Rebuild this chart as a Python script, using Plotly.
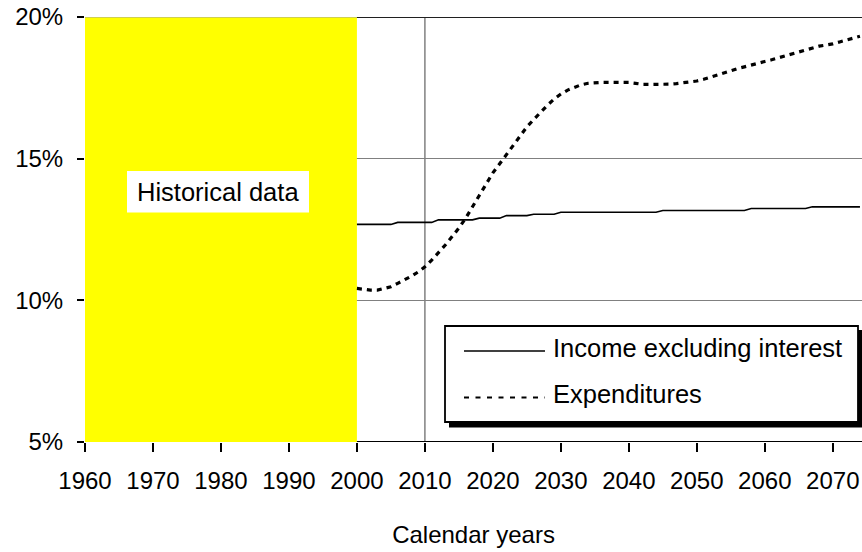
import plotly.graph_objects as go

# ---------------- data ----------------
years = list(range(2000, 2075))

income = [12.68, 12.68, 12.68, 12.68, 12.68, 12.68,
          12.75, 12.75, 12.75, 12.75, 12.75, 12.75,
          12.84, 12.84, 12.84, 12.84, 12.84, 12.84,
          12.90, 12.90, 12.90, 12.90,
          12.99, 12.99, 12.99, 12.99,
          13.04, 13.04, 13.04, 13.04,
          13.11, 13.11, 13.11, 13.11, 13.11, 13.11, 13.11, 13.11, 13.11, 13.11,
          13.11, 13.11, 13.11, 13.11, 13.11,
          13.17, 13.17, 13.17, 13.17, 13.17, 13.17, 13.17, 13.17, 13.17, 13.17,
          13.17, 13.17, 13.17,
          13.24, 13.24, 13.24, 13.24, 13.24, 13.24, 13.24, 13.24, 13.24,
          13.30, 13.30, 13.30, 13.30, 13.30, 13.30, 13.30, 13.30]

expenditures = [10.42, 10.39, 10.36, 10.36, 10.42, 10.48, 10.60, 10.72, 10.85, 11.00,
                11.18, 11.42, 11.68, 11.95, 12.25, 12.55, 12.90, 13.28, 13.70, 14.10,
                14.50, 14.82, 15.15, 15.48, 15.80, 16.12, 16.38, 16.65, 16.88, 17.10,
                17.28, 17.42, 17.53, 17.61, 17.66, 17.68, 17.69, 17.69, 17.69, 17.69,
                17.69, 17.66, 17.62, 17.62, 17.62, 17.62, 17.63, 17.65, 17.68, 17.71,
                17.74, 17.80, 17.88, 17.96, 18.05, 18.12, 18.18, 18.24, 18.31, 18.37,
                18.43, 18.49, 18.56, 18.63, 18.70, 18.77, 18.85, 18.92, 18.97, 19.01,
                19.05, 19.12, 19.19, 19.26, 19.32]

x_tick_vals = [1960, 1970, 1980, 1990, 2000, 2010, 2020, 2030, 2040, 2050, 2060, 2070]
y_tick_vals = [5, 10, 15, 20]
y_tick_text = ["5%", "10%", "15%", "20%"]

series_names = ["Income excluding interest", "Expenditures"]
historical_label = "Historical data"
x_title = "Calendar years"

historical_start, historical_end = 1960, 2000
projection_marker = 2010
x_min, x_max = 1960, 2074.3
y_min, y_max = 5, 20

FONT = "Liberation Sans, Arial, sans-serif"

# ---------------- figure ----------------
fig = go.Figure()
fig.add_trace(go.Scatter(x=years, y=income, mode="lines", name=series_names[0],
                         line=dict(color="black", width=1.6), showlegend=False))
fig.add_trace(go.Scatter(x=years, y=expenditures, mode="lines", name=series_names[1],
                         line=dict(color="black", width=3.2, dash="5px,5px"), showlegend=False))

L, R, T, B = 85, 0, 17, 110
W, H = 862, 552
pw, ph = W - L - R, H - T - B


def px_x(p):
    return (p - L) / pw


def px_y(p):
    return (H - B - p) / ph


shapes = [
    dict(type="rect", xref="x", yref="y", x0=historical_start, x1=historical_end,
         y0=y_min, y1=y_max, fillcolor="#FFFF00", line=dict(width=0), layer="between"),
    dict(type="line", xref="x", yref="y", x0=historical_start, x1=historical_end,
         y0=y_max, y1=y_max, line=dict(color="#A0A0A0", width=1), layer="above"),
    dict(type="line", xref="x", yref="y", x0=projection_marker, x1=projection_marker,
         y0=y_min, y1=y_max, line=dict(color="#808080", width=1.5), layer="between"),
    dict(type="line", xref="x", yref="y", x0=historical_end, x1=x_max,
         y0=y_max, y1=y_max, line=dict(color="#202020", width=2), layer="above"),
    dict(type="line", xref="x", yref="y", x0=historical_end, x1=x_max,
         y0=y_min, y1=y_min, line=dict(color="black", width=2), layer="above"),
    dict(type="rect", xref="paper", yref="paper", x0=px_x(127), x1=px_x(309),
         y0=px_y(212.5), y1=px_y(171), fillcolor="white", line=dict(width=0), layer="above"),
    dict(type="rect", xref="paper", yref="paper", x0=px_x(449), x1=px_x(862),
         y0=px_y(427.5), y1=px_y(330), fillcolor="black", line=dict(width=0), layer="above"),
    dict(type="rect", xref="paper", yref="paper", x0=px_x(445), x1=px_x(858),
         y0=px_y(422), y1=px_y(326), fillcolor="white",
         line=dict(color="black", width=1.8), layer="above"),
    dict(type="line", xref="paper", yref="paper", x0=px_x(464), x1=px_x(545),
         y0=px_y(351), y1=px_y(351), line=dict(color="black", width=1.6), layer="above"),
    dict(type="line", xref="paper", yref="paper", x0=px_x(464), x1=px_x(545),
         y0=px_y(397.5), y1=px_y(397.5), line=dict(color="black", width=2, dash="5px,6.5px"),
         layer="above"),
]

annotations = [
    dict(xref="paper", yref="paper", x=px_x(218), y=px_y(192), text=historical_label,
         showarrow=False, xanchor="center", yanchor="middle",
         font=dict(family=FONT, size=25.5, color="black")),
    dict(xref="paper", yref="paper", x=px_x(551), y=px_y(348), text=series_names[0],
         showarrow=False, xanchor="left", yanchor="middle",
         font=dict(family=FONT, size=25.5, color="black")),
    dict(xref="paper", yref="paper", x=px_x(551), y=px_y(394), text=series_names[1],
         showarrow=False, xanchor="left", yanchor="middle",
         font=dict(family=FONT, size=25.5, color="black")),
]

fig.update_layout(
    width=W, height=H,
    margin=dict(l=L, r=R, t=T, b=B, pad=0, autoexpand=False),
    paper_bgcolor="white", plot_bgcolor="white",
    font=dict(family=FONT, size=24, color="black"),
    showlegend=False,
    shapes=shapes,
    annotations=annotations,
    xaxis=dict(range=[x_min, x_max], tickvals=x_tick_vals, ticks="outside",
               ticklen=9, tickwidth=2, tickcolor="black", showgrid=False,
               showline=False, zeroline=False, tickfont=dict(size=24),
               ticklabelstandoff=8, automargin=False,
               title=dict(text=x_title, font=dict(size=24), standoff=33)),
    yaxis=dict(range=[y_min, y_max], tickvals=y_tick_vals, ticktext=y_tick_text,
               ticks="outside", ticklen=7, tickwidth=1.5, tickcolor="black",
               showgrid=True, gridcolor="#808080", gridwidth=1,
               showline=False, zeroline=False, tickfont=dict(size=24),
               ticklabelstandoff=9, automargin=False),
)

fig.write_html("out.html",
               config={"displayModeBar": False},
               post_script="document.body.style.margin='0px';document.body.style.overflow='hidden';")
